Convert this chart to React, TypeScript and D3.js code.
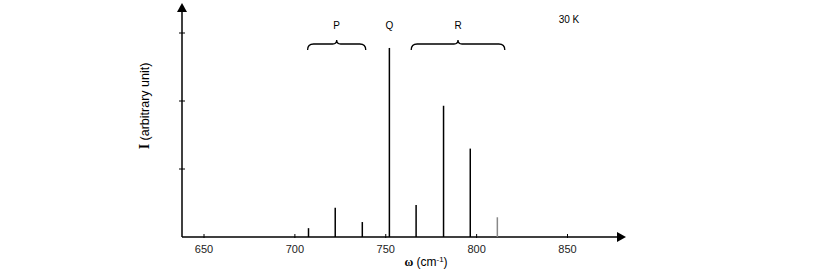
import React, { useEffect, useRef } from 'react';
import * as d3 from 'd3';

// line positions (cm^-1) and intensities (arbitrary unit)
const wavenumbers = [707.5, 722.2, 737.1, 752, 766.7, 781.8, 796.5, 811.4];
const intensities = [0.13, 0.43, 0.22, 2.78, 0.47, 1.93, 1.3, 0.29];
const lineColors = ['#000', '#000', '#000', '#000', '#000', '#000', '#000', '#888'];

const xTicks = [650, 700, 750, 800, 850];
const yTicks = [1, 2, 3];

const branches = [
  { label: 'P', from: 707, to: 739 },
  { label: 'R', from: 764, to: 815.5 },
];

function App() {
  const ref = useRef<SVGSVGElement>(null);

  useEffect(() => {
    const svg = d3.select(ref.current);
    svg.selectAll('*').remove();

    const x0 = 182;
    const y0 = 237;
    const x = d3.scaleLinear().domain([650, 850]).range([204, 567.5]);
    const y = d3.scaleLinear().domain([0, 1]).range([y0, y0 - 68]);
    const font = 'Liberation Sans, Arial, sans-serif';

    // y axis
    svg.append('line').attr('x1', x0).attr('x2', x0)
      .attr('y1', y0).attr('y2', 10).attr('stroke', '#000').attr('stroke-width', 1.5);
    svg.append('path').attr('d', `M${x0},3 L${x0 - 5},12 L${x0 + 5},12 Z`).attr('fill', '#000');
    svg.selectAll('.ytick').data(yTicks).enter().append('line')
      .attr('x1', x0 - 3).attr('x2', x0 + 3)
      .attr('y1', (d) => y(d)).attr('y2', (d) => y(d))
      .attr('stroke', '#000');

    // x axis
    svg.append('line').attr('x1', x0).attr('x2', 618)
      .attr('y1', y0).attr('y2', y0).attr('stroke', '#000').attr('stroke-width', 1.5);
    svg.append('path').attr('d', `M626,${y0} L617,${y0 - 5} L617,${y0 + 5} Z`).attr('fill', '#000');
    svg.selectAll('.xtick').data(xTicks).enter().append('line')
      .attr('x1', (d) => x(d)).attr('x2', (d) => x(d))
      .attr('y1', y0 - 3).attr('y2', y0 + 1)
      .attr('stroke', '#000');
    svg.selectAll('.xlab').data(xTicks).enter().append('text')
      .attr('x', (d) => x(d)).attr('y', 253)
      .attr('text-anchor', 'middle').attr('font-family', font).attr('font-size', 11)
      .attr('fill', '#222')
      .text((d) => d);

    // spectral lines
    svg.selectAll('.peak').data(wavenumbers).enter().append('line')
      .attr('x1', (d) => x(d)).attr('x2', (d) => x(d))
      .attr('y1', y0).attr('y2', (d, i) => y(intensities[i]))
      .attr('stroke', (d, i) => lineColors[i]).attr('stroke-width', 1.5);

    // braces
    branches.forEach((b) => {
      const a = x(b.from);
      const e = x(b.to);
      const m = (a + e) / 2;
      const yb = 44;
      svg.append('path')
        .attr('d', `M${a},${yb + 6} Q${a},${yb} ${a + 6},${yb} L${m - 4},${yb} Q${m},${yb} ${m},${yb - 4} Q${m},${yb} ${m + 4},${yb} L${e - 6},${yb} Q${e},${yb} ${e},${yb + 6}`)
        .attr('fill', 'none').attr('stroke', '#000').attr('stroke-width', 1.3);
      svg.append('text').attr('x', m).attr('y', 29)
        .attr('text-anchor', 'middle').attr('font-family', font).attr('font-size', 10)
        .text(b.label);
    });
    svg.append('text').attr('x', x(752)).attr('y', 29)
      .attr('text-anchor', 'middle').attr('font-family', font).attr('font-size', 10)
      .text('Q');
    svg.append('text').attr('x', 569).attr('y', 23)
      .attr('text-anchor', 'middle').attr('font-family', font).attr('font-size', 10)
      .text('30 K');

    // axis titles
    const yl = svg.append('text')
      .attr('transform', 'translate(149,106) rotate(-90)')
      .attr('text-anchor', 'middle').attr('font-family', font).attr('font-size', 12.5);
    yl.append('tspan').attr('font-weight', 'bold').attr('font-family', 'Liberation Serif, serif').attr('font-size', 14).text('I');
    yl.append('tspan').text(' (arbitrary unit)');

    const xl = svg.append('text')
      .attr('x', 426).attr('y', 266)
      .attr('text-anchor', 'middle').attr('font-family', font).attr('font-size', 12);
    xl.append('tspan').attr('font-weight', 'bold').attr('font-family', 'Liberation Serif, serif').text('ω');
    xl.append('tspan').text(' (cm');
    xl.append('tspan').attr('dy', -4).attr('font-size', 8).text('-1');
    xl.append('tspan').attr('dy', 4).text(')');
  }, []);

  return (
    <svg ref={ref} width={817} height={280}
      style={{ position: 'absolute', left: 0, top: 0, background: '#fff' }} />
  );
}

export default App;
